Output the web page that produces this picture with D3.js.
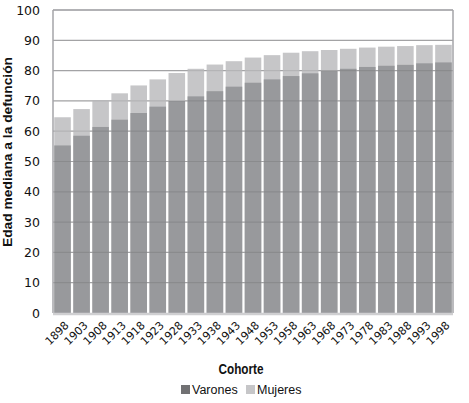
<!DOCTYPE html>
<html>
<head>
<meta charset="utf-8">
<script src="https://cdn.jsdelivr.net/npm/d3@7"></script>
<style>
  html, body { margin: 0; padding: 0; background: #fff; }
  svg { display: block; }
</style>
</head>
<body>
<div id="chart"></div>
<script>
const cohortes = ["1898","1903","1908","1913","1918","1923","1928","1933","1938","1943","1948","1953","1958","1963","1968","1973","1978","1983","1988","1993","1998"];
const varones = [55.3,58.5,61.4,63.8,66.0,68.1,70.0,71.5,73.2,74.7,76.0,77.1,78.2,79.1,80.0,80.6,81.2,81.6,81.9,82.4,82.7];
const mujeres = [64.6,67.3,70.3,72.5,75.1,77.1,79.2,80.6,82.0,83.1,84.3,85.1,85.9,86.4,86.8,87.2,87.6,87.9,88.1,88.4,88.5];
const yTicks = [0,10,20,30,40,50,60,70,80,90,100];
const seriesNames = ["Varones","Mujeres"];

const W = 469, H = 403;
const m = {left: 53, right: 16, top: 10, bottom: 90};
const iw = W - m.left - m.right, ih = H - m.top - m.bottom;

const svg = d3.select("#chart").append("svg").attr("width", W).attr("height", H);
const g = svg.append("g").attr("transform", `translate(${m.left},${m.top})`);

const x = d3.scaleBand().domain(cohortes).range([0, iw]).paddingInner(0.13).paddingOuter(0.065);
const y = d3.scaleLinear().domain([0, 100]).range([ih, 0]);

// gridlines under bars
g.append("g").selectAll("line").data(yTicks.filter(d => d > 0)).join("line")
  .attr("x1", 0).attr("x2", iw).attr("y1", d => y(d)).attr("y2", d => y(d))
  .attr("stroke", "#b4b4b6").attr("stroke-width", 1.2);

// Mujeres bars (behind)
g.append("g").selectAll("rect").data(cohortes).join("rect")
  .attr("x", d => x(d)).attr("width", x.bandwidth())
  .attr("y", (d, i) => y(mujeres[i])).attr("height", (d, i) => ih - y(mujeres[i]))
  .attr("fill", "#c6c6c8");

// Varones bars
g.append("g").selectAll("rect").data(cohortes).join("rect")
  .attr("x", d => x(d)).attr("width", x.bandwidth())
  .attr("y", (d, i) => y(varones[i])).attr("height", (d, i) => ih - y(varones[i]))
  .attr("fill", "#98999c");

// gridlines over bars (faint)
g.append("g").selectAll("line").data(yTicks.filter(d => d > 0 && d < 100)).join("line")
  .attr("x1", 0).attr("x2", iw).attr("y1", d => y(d)).attr("y2", d => y(d))
  .attr("stroke", "#000").attr("stroke-opacity", 0.09).attr("stroke-width", 1.2);

// frame: top and right and left
g.append("line").attr("x1", 0).attr("x2", iw).attr("y1", 0).attr("y2", 0).attr("stroke", "#a4a4a8").attr("stroke-width", 1.5);
g.append("line").attr("x1", iw).attr("x2", iw).attr("y1", 0).attr("y2", ih).attr("stroke", "#a4a4a8").attr("stroke-width", 1.5);
g.append("line").attr("x1", 0).attr("x2", 0).attr("y1", 0).attr("y2", ih).attr("stroke", "#a4a4a8").attr("stroke-width", 1.5);
// bottom axis line
g.append("line").attr("x1", 0).attr("x2", iw).attr("y1", ih + 1).attr("y2", ih + 1).attr("stroke", "#cfcfd1").attr("stroke-width", 2.5);

// Y axis labels
const yAxis = d3.axisLeft(y).tickValues(yTicks).tickSize(0).tickPadding(13);
const ya = g.append("g").call(yAxis);
ya.select(".domain").remove();
ya.selectAll("text").attr("font-family", "DejaVu Sans").attr("font-size", "12.5px").attr("fill", "#111");

// X axis labels rotated
const xAxis = d3.axisBottom(x).tickSize(0).tickPadding(0);
const xa = g.append("g").attr("transform", `translate(0,${ih})`).call(xAxis);
xa.select(".domain").remove();
xa.selectAll("text")
  .attr("font-family", "DejaVu Sans").attr("font-size", "11px").attr("fill", "#111")
  .attr("text-anchor", "end")
  .attr("dy", null).attr("y", 0)
  .attr("transform", "translate(7,13) rotate(-45)");

// axis titles
svg.append("text").attr("x", 241).attr("y", 374)
  .attr("text-anchor", "middle").attr("font-family", "Liberation Sans, sans-serif")
  .attr("font-weight", "bold").attr("font-size", "14px").attr("fill", "#111")
  .attr("textLength", 45).attr("lengthAdjust", "spacingAndGlyphs").text("Cohorte");

svg.append("text").attr("transform", `translate(12,${152}) rotate(-90)`)
  .attr("text-anchor", "middle").attr("font-family", "Liberation Sans, sans-serif")
  .attr("font-weight", "bold").attr("font-size", "13.5px").attr("fill", "#111")
  .attr("textLength", 190).attr("lengthAdjust", "spacingAndGlyphs").text("Edad mediana a la defunción");

// legend
const legColors = ["#717173", "#c6c6c8"];
const legX = [181, 246];
const leg = svg.append("g");
seriesNames.forEach((s, i) => {
  leg.append("rect").attr("x", legX[i]).attr("y", 385).attr("width", 9).attr("height", 9).attr("fill", legColors[i]);
  leg.append("text").attr("x", legX[i] + 11).attr("y", 394)
    .attr("font-family", "Liberation Sans, Arial, sans-serif").attr("font-size", "12.5px").attr("fill", "#111").text(s);
});
</script>
</body>
</html>
